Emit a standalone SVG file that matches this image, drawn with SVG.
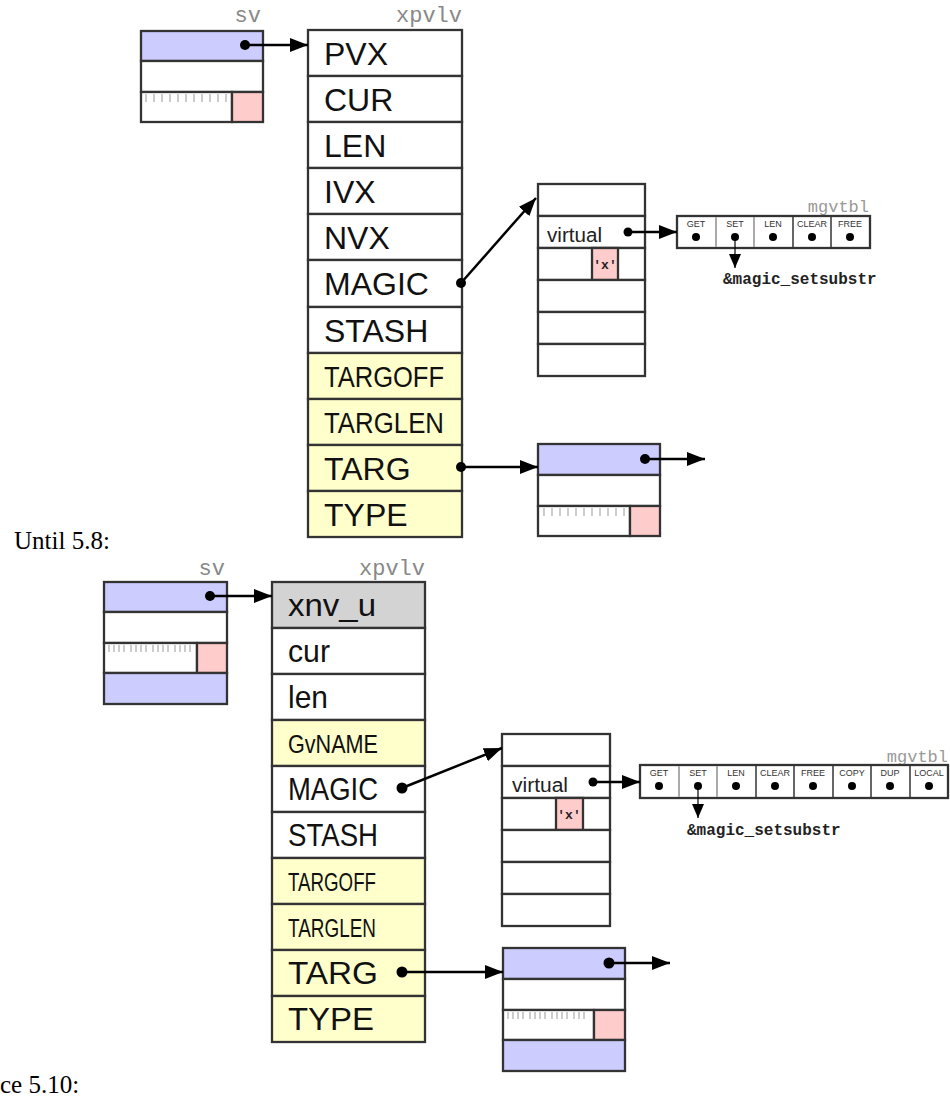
<svg xmlns="http://www.w3.org/2000/svg" width="950" height="1103" viewBox="0 0 950 1103">
<style>
.bx{stroke:#333;stroke-width:2.3;}
.w{fill:#fff}.b{fill:#ccccff}.p{fill:#ffcccc}.y{fill:#ffffcc}.g{fill:#d3d3d3}
.lab{font-family:"Liberation Sans",Arial,sans-serif;fill:#111;}
.big{font-size:32px}.sm{font-size:29px}
.mono{font-family:"Liberation Mono","Courier New",monospace;fill:#888;font-size:22px}
.mg{font-family:"Liberation Mono","Courier New",monospace;fill:#999;font-size:17px}
.fn{font-family:"Liberation Mono","Courier New",monospace;fill:#222;font-size:16px;font-weight:bold}
.cl{font-family:"Liberation Sans",Arial,sans-serif;fill:#333;font-size:9px;text-anchor:middle}
.vt{font-family:"Liberation Sans",Arial,sans-serif;fill:#222;font-size:20px}
.xc{font-family:"Liberation Mono","Courier New",monospace;fill:#222;font-size:13px;font-weight:bold;text-anchor:middle}
.cap{font-family:"Liberation Serif","Times New Roman",serif;fill:#000;font-size:25px}
.tick{stroke:#aaa;stroke-width:1.2}
.ln{stroke:#000;stroke-width:2.5;fill:none}
.dot{fill:#000}
.dv{stroke:#333;stroke-width:1.5}
.dvl{stroke:#aaa;stroke-width:2}
</style>
<defs>
<marker id="ah" viewBox="0 0 18 14" refX="18" refY="7" markerWidth="18" markerHeight="14" markerUnits="userSpaceOnUse" orient="auto"><path d="M0,0 L18,7 L0,14 z" fill="#000"/></marker>
<marker id="ahs" viewBox="0 0 12 14" refX="6" refY="14" markerWidth="12" markerHeight="14" markerUnits="userSpaceOnUse" orient="0"><path d="M0,0 L12,0 L6,14 z" fill="#000"/></marker>
</defs>

<!-- captions -->
<text class="cap" x="14" y="549">Until 5.8:</text>
<text class="cap" x="0" y="1093">ce 5.10:</text>

<!-- ============ TOP DIAGRAM ============ -->
<g id="sv1">
<text class="mono" x="261" y="22" text-anchor="end">sv</text>
<rect class="bx b" x="141" y="31" width="122" height="30"/>
<rect class="bx w" x="141" y="61" width="122" height="31"/>
<rect class="bx w" x="141" y="92" width="91" height="30"/>
<rect class="bx p" x="232" y="92" width="31" height="30"/>
<g class="tick"><line x1="146" y1="94" x2="146" y2="102"/><line x1="154" y1="94" x2="154" y2="102"/><line x1="162" y1="94" x2="162" y2="102"/><line x1="170" y1="94" x2="170" y2="102"/><line x1="178" y1="94" x2="178" y2="102"/><line x1="186" y1="94" x2="186" y2="102"/><line x1="194" y1="94" x2="194" y2="102"/><line x1="202" y1="94" x2="202" y2="102"/><line x1="210" y1="94" x2="210" y2="102"/><line x1="218" y1="94" x2="218" y2="102"/><line x1="226" y1="94" x2="226" y2="102"/></g>
</g>

<g id="xpvlv1">
<text class="mono" x="462" y="22" text-anchor="end">xpvlv</text>
<rect class="bx w" x="308" y="30" width="154" height="46"/>
<rect class="bx w" x="308" y="76" width="154" height="46"/>
<rect class="bx w" x="308" y="122" width="154" height="46"/>
<rect class="bx w" x="308" y="168" width="154" height="46"/>
<rect class="bx w" x="308" y="214" width="154" height="46"/>
<rect class="bx w" x="308" y="260" width="154" height="47"/>
<rect class="bx w" x="308" y="307" width="154" height="46"/>
<rect class="bx y" x="308" y="353" width="154" height="46"/>
<rect class="bx y" x="308" y="399" width="154" height="46"/>
<rect class="bx y" x="308" y="445" width="154" height="46"/>
<rect class="bx y" x="308" y="491" width="154" height="46"/>
<text class="lab big" x="324" y="65">PVX</text>
<text class="lab big" x="324" y="111">CUR</text>
<text class="lab big" x="324" y="157">LEN</text>
<text class="lab big" x="324" y="203">IVX</text>
<text class="lab big" x="324" y="249">NVX</text>
<text class="lab big" x="324" y="295">MAGIC</text>
<text class="lab big" x="324" y="342">STASH</text>
<text class="lab sm" x="324" y="387" textLength="120" lengthAdjust="spacingAndGlyphs">TARGOFF</text>
<text class="lab sm" x="324" y="433" textLength="120" lengthAdjust="spacingAndGlyphs">TARGLEN</text>
<text class="lab big" x="324" y="480">TARG</text>
<text class="lab big" x="324" y="526">TYPE</text>
</g>

<g id="magic1">
<rect class="bx w" x="538" y="184" width="107" height="32"/>
<rect class="bx w" x="538" y="216" width="107" height="32"/>
<rect class="bx w" x="538" y="248" width="107" height="32"/>
<rect class="bx p" x="592" y="248" width="26" height="32"/>
<rect class="bx w" x="538" y="280" width="107" height="32"/>
<rect class="bx w" x="538" y="312" width="107" height="32"/>
<rect class="bx w" x="538" y="344" width="107" height="32"/>
<text class="vt" x="547" y="242" textLength="55" lengthAdjust="spacingAndGlyphs">virtual</text>
<text class="xc" x="605" y="269">'x'</text>
</g>

<g id="mgvtbl1">
<text class="mg" x="869" y="212" text-anchor="end">mgvtbl</text>
<rect class="bx w" x="677" y="216" width="193" height="32"/>
<line class="dvl" x1="716" y1="217" x2="716" y2="247"/>
<line class="dvl" x1="754" y1="217" x2="754" y2="247"/>
<line class="dv" x1="793" y1="216" x2="793" y2="248"/>
<line class="dv" x1="831" y1="216" x2="831" y2="248"/>
<text class="cl" x="696" y="227">GET</text>
<text class="cl" x="735" y="227">SET</text>
<text class="cl" x="773" y="227">LEN</text>
<text class="cl" x="812" y="227">CLEAR</text>
<text class="cl" x="850" y="227">FREE</text>
<circle class="dot" cx="696" cy="237" r="4"/>
<circle class="dot" cx="735" cy="237" r="4"/>
<circle class="dot" cx="773" cy="237" r="4"/>
<circle class="dot" cx="812" cy="237" r="4"/>
<circle class="dot" cx="850" cy="237" r="4"/>
<text class="fn" x="723" y="284">&amp;magic_setsubstr</text>
</g>

<g id="targ1">
<rect class="bx b" x="538" y="444" width="122" height="31"/>
<rect class="bx w" x="538" y="475" width="122" height="31"/>
<rect class="bx w" x="538" y="506" width="92" height="30"/>
<rect class="bx p" x="630" y="506" width="30" height="30"/>
<g class="tick"><line x1="544" y1="508" x2="544" y2="516"/><line x1="552" y1="508" x2="552" y2="516"/><line x1="560" y1="508" x2="560" y2="516"/><line x1="568" y1="508" x2="568" y2="516"/><line x1="576" y1="508" x2="576" y2="516"/><line x1="584" y1="508" x2="584" y2="516"/><line x1="592" y1="508" x2="592" y2="516"/><line x1="600" y1="508" x2="600" y2="516"/><line x1="608" y1="508" x2="608" y2="516"/><line x1="616" y1="508" x2="616" y2="516"/><line x1="624" y1="508" x2="624" y2="516"/></g>
</g>

<!-- ============ BOTTOM DIAGRAM ============ -->
<g id="sv2">
<text class="mono" x="225" y="575" text-anchor="end">sv</text>
<rect class="bx b" x="104" y="582" width="123" height="30"/>
<rect class="bx w" x="104" y="612" width="123" height="31"/>
<rect class="bx w" x="104" y="643" width="93" height="30"/>
<rect class="bx p" x="197" y="643" width="30" height="30"/>
<rect class="bx b" x="104" y="673" width="123" height="31"/>
<g class="tick"><line x1="109" y1="645" x2="109" y2="652"/><line x1="114" y1="645" x2="114" y2="652"/><line x1="119" y1="645" x2="119" y2="652"/><line x1="124" y1="645" x2="124" y2="652"/><line x1="131" y1="645" x2="131" y2="652"/><line x1="136" y1="645" x2="136" y2="652"/><line x1="141" y1="645" x2="141" y2="652"/><line x1="146" y1="645" x2="146" y2="652"/><line x1="153" y1="645" x2="153" y2="652"/><line x1="158" y1="645" x2="158" y2="652"/><line x1="163" y1="645" x2="163" y2="652"/><line x1="168" y1="645" x2="168" y2="652"/><line x1="175" y1="645" x2="175" y2="652"/><line x1="180" y1="645" x2="180" y2="652"/><line x1="185" y1="645" x2="185" y2="652"/><line x1="190" y1="645" x2="190" y2="652"/></g>
</g>

<g id="xpvlv2">
<text class="mono" x="425" y="575" text-anchor="end">xpvlv</text>
<rect class="bx g" x="272" y="582" width="153" height="46"/>
<rect class="bx w" x="272" y="628" width="153" height="46"/>
<rect class="bx w" x="272" y="674" width="153" height="46"/>
<rect class="bx y" x="272" y="720" width="153" height="46"/>
<rect class="bx w" x="272" y="766" width="153" height="46"/>
<rect class="bx w" x="272" y="812" width="153" height="46"/>
<rect class="bx y" x="272" y="858" width="153" height="46"/>
<rect class="bx y" x="272" y="904" width="153" height="46"/>
<rect class="bx y" x="272" y="950" width="153" height="46"/>
<rect class="bx y" x="272" y="996" width="153" height="46"/>
<text class="lab big" x="288" y="616" textLength="88" lengthAdjust="spacingAndGlyphs">xnv_u</text>
<text class="lab big" x="288" y="662" textLength="42" lengthAdjust="spacingAndGlyphs">cur</text>
<text class="lab big" x="288" y="708" textLength="40" lengthAdjust="spacingAndGlyphs">len</text>
<text class="lab" font-size="26" x="288" y="753" textLength="90" lengthAdjust="spacingAndGlyphs">GvNAME</text>
<text class="lab" font-size="31" x="288" y="800" textLength="90" lengthAdjust="spacingAndGlyphs">MAGIC</text>
<text class="lab" font-size="31" x="288" y="846" textLength="90" lengthAdjust="spacingAndGlyphs">STASH</text>
<text class="lab" font-size="26" x="288" y="891" textLength="88" lengthAdjust="spacingAndGlyphs">TARGOFF</text>
<text class="lab" font-size="26" x="288" y="937" textLength="88" lengthAdjust="spacingAndGlyphs">TARGLEN</text>
<text class="lab" font-size="31" x="288" y="984" textLength="90" lengthAdjust="spacingAndGlyphs">TARG</text>
<text class="lab" font-size="31" x="288" y="1030" textLength="86" lengthAdjust="spacingAndGlyphs">TYPE</text>
</g>

<g id="magic2">
<rect class="bx w" x="502" y="734" width="108" height="32"/>
<rect class="bx w" x="502" y="766" width="108" height="32"/>
<rect class="bx w" x="502" y="798" width="108" height="32"/>
<rect class="bx p" x="556" y="798" width="27" height="32"/>
<rect class="bx w" x="502" y="830" width="108" height="32"/>
<rect class="bx w" x="502" y="862" width="108" height="32"/>
<rect class="bx w" x="502" y="894" width="108" height="32"/>
<text class="vt" x="512" y="792" textLength="56" lengthAdjust="spacingAndGlyphs">virtual</text>
<text class="xc" x="569" y="819">'x'</text>
</g>

<g id="mgvtbl2">
<text class="mg" x="948" y="762" text-anchor="end">mgvtbl</text>
<rect class="bx w" x="640" y="765" width="308" height="33"/>
<line class="dvl" x1="679" y1="766" x2="679" y2="797"/>
<line class="dvl" x1="717" y1="766" x2="717" y2="797"/>
<line class="dv" x1="756" y1="765" x2="756" y2="798"/>
<line class="dv" x1="794" y1="765" x2="794" y2="798"/>
<line class="dv" x1="833" y1="765" x2="833" y2="798"/>
<line class="dv" x1="871" y1="765" x2="871" y2="798"/>
<line class="dv" x1="910" y1="765" x2="910" y2="798"/>
<text class="cl" x="659" y="776">GET</text>
<text class="cl" x="698" y="776">SET</text>
<text class="cl" x="736" y="776">LEN</text>
<text class="cl" x="775" y="776">CLEAR</text>
<text class="cl" x="813" y="776">FREE</text>
<text class="cl" x="852" y="776">COPY</text>
<text class="cl" x="890" y="776">DUP</text>
<text class="cl" x="929" y="776">LOCAL</text>
<circle class="dot" cx="659" cy="786" r="4"/>
<circle class="dot" cx="698" cy="786" r="4"/>
<circle class="dot" cx="736" cy="786" r="4"/>
<circle class="dot" cx="775" cy="786" r="4"/>
<circle class="dot" cx="813" cy="786" r="4"/>
<circle class="dot" cx="852" cy="786" r="4"/>
<circle class="dot" cx="890" cy="786" r="4"/>
<circle class="dot" cx="929" cy="786" r="4"/>
<text class="fn" x="687" y="835">&amp;magic_setsubstr</text>
</g>

<g id="targ2">
<rect class="bx b" x="503" y="948" width="122" height="31"/>
<rect class="bx w" x="503" y="979" width="122" height="31"/>
<rect class="bx w" x="503" y="1010" width="91" height="30"/>
<rect class="bx p" x="594" y="1010" width="31" height="30"/>
<rect class="bx b" x="503" y="1040" width="122" height="31"/>
<g class="tick"><line x1="508" y1="1012" x2="508" y2="1019"/><line x1="513" y1="1012" x2="513" y2="1019"/><line x1="518" y1="1012" x2="518" y2="1019"/><line x1="523" y1="1012" x2="523" y2="1019"/><line x1="530" y1="1012" x2="530" y2="1019"/><line x1="535" y1="1012" x2="535" y2="1019"/><line x1="540" y1="1012" x2="540" y2="1019"/><line x1="545" y1="1012" x2="545" y2="1019"/><line x1="552" y1="1012" x2="552" y2="1019"/><line x1="557" y1="1012" x2="557" y2="1019"/><line x1="562" y1="1012" x2="562" y2="1019"/><line x1="567" y1="1012" x2="567" y2="1019"/><line x1="574" y1="1012" x2="574" y2="1019"/><line x1="579" y1="1012" x2="579" y2="1019"/><line x1="584" y1="1012" x2="584" y2="1019"/></g>
</g>

<!-- ============ CONNECTORS ============ -->
<g id="connectors">
<line class="ln" x1="245" y1="45" x2="308" y2="45" marker-end="url(#ah)"/>
<circle class="dot" cx="245" cy="45" r="5"/>
<line class="ln" x1="461" y1="283" x2="536" y2="198" marker-end="url(#ah)"/>
<circle class="dot" cx="461" cy="283" r="5"/>
<line class="ln" x1="628" y1="232" x2="677" y2="232" marker-end="url(#ah)"/>
<circle class="dot" cx="628" cy="232" r="4.5"/>
<line x1="735" y1="237" x2="735" y2="268" stroke="#000" stroke-width="1.2" marker-end="url(#ahs)"/>
<line class="ln" x1="461" y1="467" x2="538" y2="467" marker-end="url(#ah)"/>
<circle class="dot" cx="461" cy="467" r="5"/>
<line class="ln" x1="645" y1="459" x2="705" y2="459" marker-end="url(#ah)"/>
<circle class="dot" cx="645" cy="459" r="5"/>

<line class="ln" x1="210" y1="596" x2="272" y2="596" marker-end="url(#ah)"/>
<circle class="dot" cx="210" cy="596" r="5"/>
<line class="ln" x1="402" y1="788" x2="502" y2="748" marker-end="url(#ah)"/>
<circle class="dot" cx="402" cy="788" r="5.5"/>
<line class="ln" x1="593" y1="782" x2="640" y2="782" marker-end="url(#ah)"/>
<circle class="dot" cx="593" cy="782" r="4.5"/>
<line x1="698" y1="786" x2="698" y2="818" stroke="#000" stroke-width="1.2" marker-end="url(#ahs)"/>
<line class="ln" x1="402" y1="972" x2="503" y2="972" marker-end="url(#ah)"/>
<circle class="dot" cx="402" cy="972" r="5.5"/>
<line class="ln" x1="609" y1="963" x2="670" y2="963" marker-end="url(#ah)"/>
<circle class="dot" cx="609" cy="963" r="5.5"/>
</g>
</svg>
